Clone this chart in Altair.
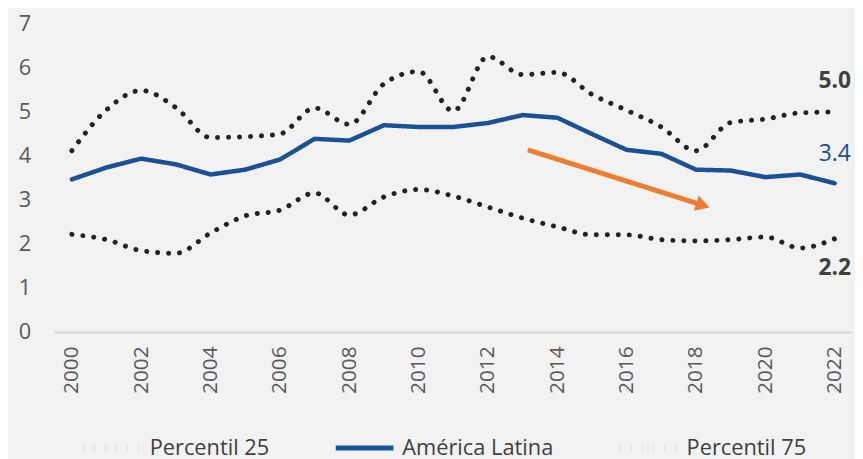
import altair as alt
import pandas as pd

years = list(range(2000, 2023))
america_latina = [3.47, 3.74, 3.94, 3.81, 3.58, 3.69, 3.92, 4.39, 4.35, 4.70, 4.66, 4.66, 4.75, 4.93,
                  4.87, 4.50, 4.14, 4.05, 3.69, 3.67, 3.52, 3.58, 3.38]
percentil_75 = [4.12, 5.05, 5.49, 5.10, 4.42, 4.44, 4.50, 5.09, 4.72, 5.64, 5.92, 5.02, 6.26, 5.85,
                5.90, 5.40, 5.04, 4.66, 4.12, 4.76, 4.84, 4.98, 5.00]
percentil_25 = [2.22, 2.10, 1.85, 1.79, 2.25, 2.64, 2.77, 3.16, 2.66, 3.07, 3.24, 3.09, 2.84, 2.59,
                2.39, 2.21, 2.21, 2.10, 2.07, 2.10, 2.16, 1.91, 2.12]

series_names = ["Percentil 25", "América Latina", "Percentil 75"]
series_colors = ["#222222", "#1a5096", "#222222"]
series_dash = [[0.1, 11], [1, 0], [0.1, 11]]

end_labels = ["2.2", "3.4", "5.0"]
end_label_y = [1.45, 4.05, 5.7]
end_label_colors = ["#404040", "#1a5096", "#404040"]

arrow_x = [2013.15, 2018.05]
arrow_y = [4.14, 2.92]
arrow_tip = (2018.2, 2.88)

rows = []
for name, vals in zip(series_names, [percentil_25, america_latina, percentil_75]):
    for y, v in zip(years, vals):
        rows.append({"year": y, "value": v, "serie": name})
df = pd.DataFrame(rows)

FONT = "Open Sans"
x_scale = alt.Scale(domain=[1999.5, 2022.5], nice=False, zero=False)
y_scale = alt.Scale(domain=[0, 7], nice=False)

x_enc = alt.X("year:Q", scale=x_scale,
              axis=alt.Axis(values=list(range(2000, 2023, 2)), format="d", labelAngle=-90,
                            labelAlign="right", labelBaseline="middle", labelPadding=14,
                            ticks=False, grid=False, domain=True, domainColor="#d6d6d6",
                            domainWidth=2, labelFontSize=21, labelColor="#595959",
                            labelFont=FONT, title=None))
y_enc = alt.Y("value:Q", scale=y_scale,
              axis=alt.Axis(values=list(range(0, 8)), ticks=False, grid=False, domain=False,
                            labelFontSize=22, labelColor="#595959", labelFont=FONT,
                            labelPadding=24, title=None))
color_enc = alt.Color("serie:N", scale=alt.Scale(domain=series_names, range=series_colors),
                      sort=series_names,
                      legend=alt.Legend(orient="none", legendX=26, legendY=396,
                                        direction="horizontal", title=None, symbolType="stroke",
                                        symbolSize=3400, symbolStrokeWidth=5, labelFontSize=22,
                                        labelFont=FONT, labelColor="#404040", columnPadding=56,
                                        labelOffset=6))
dash_enc = alt.StrokeDash("serie:N", scale=alt.Scale(domain=series_names, range=series_dash),
                          sort=series_names, legend=None)

dotted = alt.Chart(df).transform_filter(alt.datum.serie != "América Latina").mark_line(
    interpolate="monotone", strokeCap="round", strokeWidth=5).encode(
    x=x_enc, y=y_enc, color=color_enc, strokeDash=dash_enc, detail="serie:N")
solid = alt.Chart(df).transform_filter(alt.datum.serie == "América Latina").mark_line(
    strokeCap="round", strokeWidth=4.5).encode(
    x=x_enc, y=y_enc, color=color_enc, strokeDash=dash_enc)

lab_df = pd.DataFrame({"year": [2022] * 3, "value": end_label_y, "txt": end_labels,
                       "c": end_label_colors})
labels_bold = alt.Chart(lab_df).transform_filter(alt.datum.txt != "3.4").mark_text(
    fontSize=23, font=FONT, align="center", fontWeight="bold").encode(
    x=alt.X("year:Q", scale=x_scale),
    y=alt.Y("value:Q", scale=y_scale),
    text="txt:N",
    color=alt.Color("c:N", scale=None),
)
labels_norm = alt.Chart(lab_df).transform_filter(alt.datum.txt == "3.4").mark_text(
    fontSize=23, font=FONT, align="center").encode(
    x=alt.X("year:Q", scale=x_scale),
    y=alt.Y("value:Q", scale=y_scale),
    text="txt:N",
    color=alt.Color("c:N", scale=None),
)

arr_df = pd.DataFrame({"year": arrow_x, "value": arrow_y})
arrow_line = alt.Chart(arr_df).mark_line(color="#ed7d31", strokeWidth=5).encode(
    x=alt.X("year:Q", scale=x_scale), y=alt.Y("value:Q", scale=y_scale))
tip_df = pd.DataFrame({"year": [arrow_tip[0]], "value": [arrow_tip[1]]})
arrow_head = alt.Chart(tip_df).mark_point(shape="triangle-right", filled=True, color="#ed7d31",
                                          size=260, angle=17.5, opacity=1).encode(
    x=alt.X("year:Q", scale=x_scale), y=alt.Y("value:Q", scale=y_scale))

chart = alt.layer(dotted, solid, arrow_line, arrow_head, labels_bold, labels_norm).properties(
    width=805, height=311,
    autosize=alt.AutoSizeParams(type="none"),
    padding={"left": 47, "top": 14, "right": 3, "bottom": 126},
    background="#f2f2f2",
).configure_view(stroke=None)

chart.save("out.html", embed_options={"renderer": "svg", "actions": False})
